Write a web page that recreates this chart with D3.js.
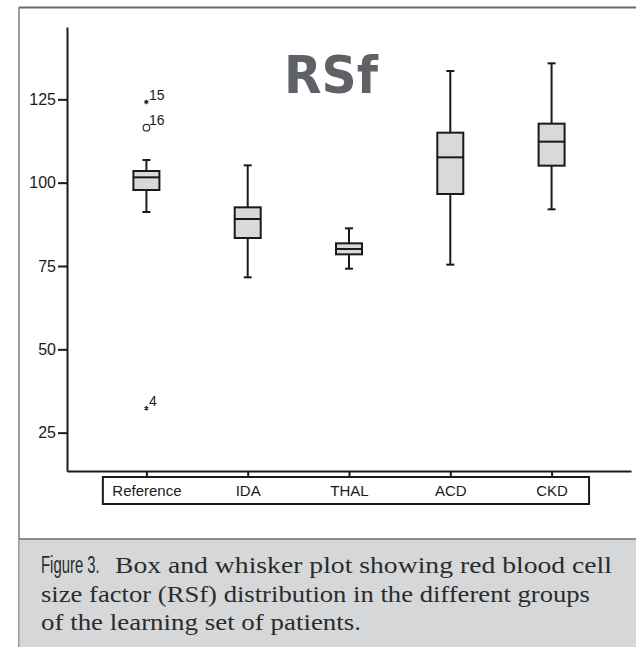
<!DOCTYPE html>
<meta charset="utf-8">
<style>
 body { margin: 0; background: #fff; }
 .axis path, .axis line { stroke: #1a1a1a; stroke-width: 2px; }
 .axis text { font-family: "Liberation Sans", Arial, sans-serif; font-size: 15px; fill: #1a1a1a; }
 .yaxis text { font-size: 16px; }
 .box { fill: #d9d9d9; stroke: #1a1a1a; stroke-width: 2px; }
 .whisker { stroke: #1a1a1a; stroke-width: 2px; }
</style>
<body>
<script src="https://d3js.org/d3.v7.min.js"></script>
<script>

// groups and their five-number summaries
var groups  = ["Reference", "IDA", "THAL", "ACD", "CKD"];
var whiskLo = [91.2, 71.6, 74.2, 75.4, 92.0];
var q1      = [97.8, 83.4, 78.5, 96.6, 105.1];
var median  = [101.6, 89.1, 80.1, 107.6, 112.3];
var q3      = [103.5, 92.6, 81.8, 115.0, 117.7];
var whiskHi = [106.8, 105.2, 86.3, 133.5, 135.8];

// outliers (Reference group only)
var outGroup = ["Reference", "Reference", "Reference"];
var outValue = [124.2, 116.5, 32.3];
var outLabel = ["15", "16", "4"];
var outKind  = ["star", "circle", "star"];

var yTicks = [25, 50, 75, 100, 125];
var captionHead = "Figure 3.";
var captionLines = [
  "Box and whisker plot showing red blood cell",
  "size factor (RSf) distribution in the different groups",
  "of the learning set of patients."
];

var W = 636, H = 647;
var svg = d3.select("body").append("svg")
    .attr("width", W)
    .attr("height", H);

// outer frame of the figure
svg.append("line").attr("x1", 19).attr("x2", W).attr("y1", 7.5).attr("y2", 7.5)
    .style("stroke", "#6b6b6b").style("stroke-width", 2);
svg.append("line").attr("x1", 19).attr("x2", 19).attr("y1", 7).attr("y2", H)
    .style("stroke", "#7a7a7a").style("stroke-width", 1.5);

// caption panel
svg.append("rect").attr("x", 19.5).attr("y", 539).attr("width", W - 19).attr("height", H - 539)
    .style("fill", "#d6d7d9");
svg.append("line").attr("x1", 19).attr("x2", W).attr("y1", 539).attr("y2", 539)
    .style("stroke", "#6e6e6e").style("stroke-width", 1.5);

// "Figure 3." is set in a condensed sans, squeeze it horizontally
svg.append("text")
    .attr("transform", "translate(41,573) scale(0.62,1)")
    .style("font-family", "'Liberation Sans', sans-serif")
    .style("font-size", "24px")
    .style("fill", "#2b2b2b")
    .text(captionHead);

var capW = [497, 549, 320];
captionLines.forEach(function(t, i) {
  svg.append("text")
      .attr("x", i === 0 ? 115 : 41)
      .attr("y", 573 + i * 28.5)
      .attr("textLength", capW[i])
      .attr("lengthAdjust", "spacingAndGlyphs")
      .style("font-family", "'Liberation Serif', serif")
      .style("font-size", "23px")
      .style("fill", "#2b2b2b")
      .text(t);
});

// scales
var y = d3.scaleLinear().domain([13.5, 146.7]).range([471, 27]);
var x = d3.scalePoint().domain(groups).range([67, 631]).padding(0.784);

// big title
svg.append("text")
    .attr("x", 284).attr("y", 92.5)
    .attr("textLength", 94)
    .attr("lengthAdjust", "spacingAndGlyphs")
    .style("font-family", "'DejaVu Sans', sans-serif")
    .style("font-weight", "bold")
    .style("font-size", "52px")
    .style("fill", "#5e6166")
    .text("RSf");

// y axis
svg.append("g")
    .attr("class", "axis yaxis")
    .attr("transform", "translate(67,0)")
    .call(d3.axisLeft(y).tickValues(yTicks).tickSize(9).tickSizeOuter(0).tickPadding(2));

// x axis
svg.append("g")
    .attr("class", "axis")
    .attr("transform", "translate(0,471)")
    .call(d3.axisBottom(x).tickSize(6).tickSizeOuter(0).tickPadding(8));

// frame around category labels
var step = x.step();
svg.append("rect")
    .attr("x", x(groups[0]) - step * 0.43)
    .attr("y", 477)
    .attr("width", x(groups[groups.length - 1]) + step * 0.37 - (x(groups[0]) - step * 0.43))
    .attr("height", 27)
    .style("fill", "none").style("stroke", "#1a1a1a").style("stroke-width", 2);

// boxes
var bw = 26, cap = 8;
groups.forEach(function(g, i) {
  var cx = x(g);
  svg.append("line").attr("class", "whisker")
      .attr("x1", cx).attr("x2", cx).attr("y1", y(whiskHi[i])).attr("y2", y(q3[i]));
  svg.append("line").attr("class", "whisker")
      .attr("x1", cx).attr("x2", cx).attr("y1", y(q1[i])).attr("y2", y(whiskLo[i]));
  svg.append("line").attr("class", "whisker")
      .attr("x1", cx - cap / 2).attr("x2", cx + cap / 2).attr("y1", y(whiskHi[i])).attr("y2", y(whiskHi[i]));
  svg.append("line").attr("class", "whisker")
      .attr("x1", cx - cap / 2).attr("x2", cx + cap / 2).attr("y1", y(whiskLo[i])).attr("y2", y(whiskLo[i]));
  svg.append("rect").attr("class", "box")
      .attr("x", cx - bw / 2).attr("width", bw)
      .attr("y", y(q3[i])).attr("height", y(q1[i]) - y(q3[i]));
  svg.append("line").attr("class", "whisker")
      .attr("x1", cx - bw / 2).attr("x2", cx + bw / 2).attr("y1", y(median[i])).attr("y2", y(median[i]));
});

// outliers
outValue.forEach(function(v, i) {
  var cx = x(outGroup[i]), cy = y(v);
  if (outKind[i] === "circle") {
    svg.append("circle").attr("cx", cx).attr("cy", cy).attr("r", 3.3)
        .style("fill", "none").style("stroke", "#333").style("stroke-width", 1.2);
  } else {
    svg.append("path")
        .attr("transform", "translate(" + cx + "," + cy + ")")
        .attr("d", d3.symbol(d3.symbolAsterisk, 14)())
        .style("fill", "none").style("stroke", "#222").style("stroke-width", 1.2);
  }
  svg.append("text")
      .attr("x", cx + 2.5).attr("y", cy - 2.5)
      .style("font-family", "'Liberation Sans', Arial, sans-serif")
      .style("font-size", "14px")
      .style("fill", "#1a1a1a")
      .text(outLabel[i]);
});

</script>
</body>
